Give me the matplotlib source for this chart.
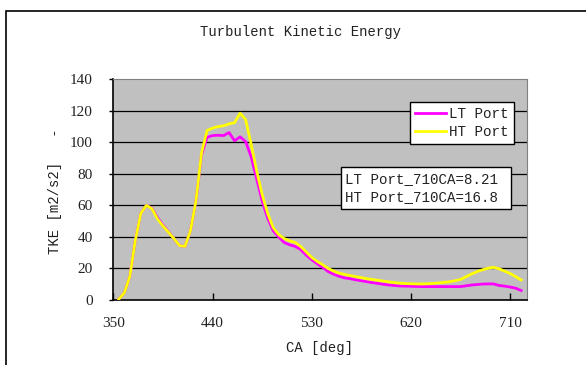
import matplotlib
matplotlib.use("Agg")
import matplotlib.pyplot as plt
from matplotlib.patches import Rectangle

# crank angle [deg], every 5 deg
ca = list(range(355, 725, 5))

# HT Port TKE [m2/s2]
ht_port = [0.5, 4.5, 15, 38, 55, 60, 58, 51.5, 47, 43,
           39, 34.5, 34, 44, 63, 93, 107.5, 109, 110, 110.5,
           111.7, 112.5, 118.5, 114.5, 99, 82, 67, 55, 46, 41.5,
           39, 37.5, 36.5, 34, 30.5, 27, 24.5, 22.3, 20, 18.3,
           17, 16.2, 15.5, 14.8, 14.2, 13.5, 13, 12.5, 12, 11.5,
           11, 10.7, 10.4, 10.3, 10.2, 10.2, 10.3, 10.5, 10.8, 11.2,
           11.6, 12.2, 13, 14.8, 16.5, 18, 19.2, 20.2, 20.7, 19.8,
           18.3, 16.8, 14.8, 12.7]

# LT Port TKE [m2/s2]
lt_port = [0.5, 4.5, 15, 38, 55, 60, 58.3, 52.3, 47.5, 43.3,
           39, 34.5, 34, 44, 63, 92, 103.2, 104.3, 104.5, 104.3,
           106.2, 101, 103.5, 100.5, 91, 77, 63, 52, 44, 40,
           36.5, 35, 34, 32, 28.5, 25.5, 23, 20.7, 18, 16.3,
           15, 14, 13.5, 12.8, 12.2, 11.6, 11, 10.5, 10, 9.5,
           9.2, 8.9, 8.8, 8.7, 8.6, 8.5, 8.5, 8.5, 8.5, 8.5,
           8.5, 8.5, 8.5, 9, 9.5, 9.8, 10.1, 10.2, 10.2, 9.2,
           8.8, 8.2, 7.5, 6]

x_ticks = [350, 440, 530, 620, 710]
y_ticks = [0, 20, 40, 60, 80, 100, 120, 140]

W, H = 586, 365
mono = "Liberation Mono"
serif = "Liberation Serif"

fig = plt.figure(figsize=(W / 100, H / 100), dpi=100)

# outer chart border (only left/top visible in the crop)
fig.patches.append(Rectangle((5.5 / W, -0.1), 1.2, (H - 10.5) / H + 0.1,
                             transform=fig.transFigure, fill=False,
                             edgecolor="black", linewidth=1.2))

ax = fig.add_axes([113.3 / W, 1 - 300 / H, (526.7 - 113.3) / W, (300 - 79.3) / H])
ax.set_facecolor("#C0C0C0")

ax.plot(ca, lt_port, color="#FF00FF", linewidth=2, label="LT Port", zorder=3)
ax.plot(ca, ht_port, color="#FFFF00", linewidth=2, label="HT Port", zorder=4)

ax.set_xlim(350, 725)
ax.set_ylim(0, 140)
ax.set_xticks(x_ticks)
ax.set_yticks(y_ticks)
for v in y_ticks[1:-1]:
    ax.axhline(v, color="black", linewidth=0.9, zorder=1)

ax.tick_params(axis="y", direction="out", length=3, width=1, pad=11.7)
ax.tick_params(axis="x", direction="in", length=5, width=1, pad=12)
for lab in ax.get_xticklabels() + ax.get_yticklabels():
    lab.set_fontfamily(serif)
    lab.set_fontsize(11)
    lab.set_color("#222222")

ax.spines["left"].set_color("black")
ax.spines["bottom"].set_color("black")
ax.spines["left"].set_linewidth(1.2)
ax.spines["bottom"].set_linewidth(1.2)
ax.spines["top"].set_color("#808080")
ax.spines["right"].set_color("#808080")

leg = ax.legend(loc="upper left", bbox_to_anchor=((410 - 113.3) / 413.4, (300 - 101.7) / 220.7),
                prop={"family": mono, "size": 10.3}, frameon=True, fancybox=False,
                handlelength=2.2, handletextpad=0.2, borderpad=0.35,
                labelspacing=0.3, borderaxespad=0)
leg.get_frame().set_edgecolor("black")
leg.get_frame().set_linewidth(1)
leg.get_frame().set_facecolor("white")
leg.get_frame().set_alpha(1)
for t in leg.get_texts():
    t.set_color("#222222")

ax.text((345 - 113.3) / 413.4, (300 - 188) / 220.7,
        "LT Port_710CA=8.21 \nHT Port_710CA=16.8 ",
        transform=ax.transAxes, family=mono, fontsize=10.2, color="#222222",
        va="center", ha="left", linespacing=1.45, zorder=6,
        bbox=dict(boxstyle="square,pad=0.3", facecolor="white",
                  edgecolor="black", linewidth=1))

fig.text(300 / W, 1 - 32 / H, "Turbulent Kinetic Energy", family=mono,
         fontsize=10, ha="center", va="center", color="#222222")
fig.text(320 / W, 1 - 348 / H, "CA [deg]", family=mono,
         fontsize=10, ha="center", va="center", color="#222222")
fig.text(55 / W, 1 - 191 / H, "TKE [m2/s2]   -", family=mono,
         fontsize=10, ha="center", va="center", rotation=90, color="#222222")

fig.savefig("out.png", dpi=100)
